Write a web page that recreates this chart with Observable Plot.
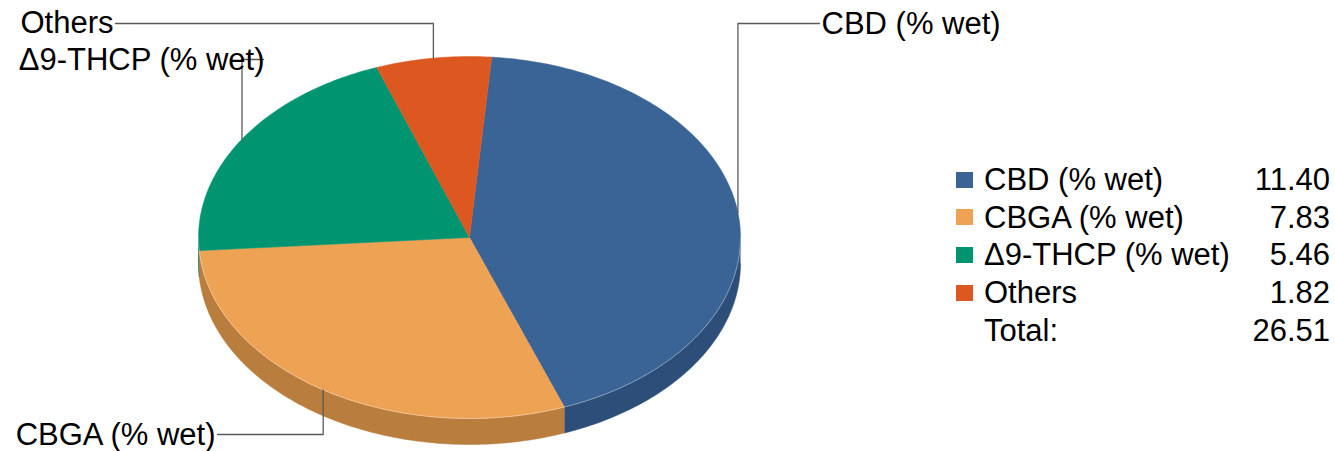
<!DOCTYPE html>
<html><head><meta charset="utf-8">
<script src="https://cdn.jsdelivr.net/npm/d3@7"></script>
<script src="https://cdn.jsdelivr.net/npm/@observablehq/plot@0.6"></script>
<style>
body{margin:0;background:#fff;font-family:"Liberation Sans",Arial,sans-serif;}
#wrap{position:relative;width:1335px;height:451px;overflow:hidden;}
#wrap svg{display:block;}
#legend{position:absolute;left:956px;top:161px;width:374px;font-size:31px;color:#000;line-height:1;}
.row{display:flex;align-items:center;height:37.6px;}
.sw{width:17px;height:16px;margin-right:11px;flex:none;}
.lab{flex:1;white-space:nowrap;}
.val{text-align:right;white-space:nowrap;}
</style></head><body><div id="wrap"><div id="legend"></div></div>
<script>
// ---- data ----
const categories = ["CBD (% wet)", "CBGA (% wet)", "Δ9-THCP (% wet)", "Others"];
const values = [11.40, 7.83, 5.46, 1.82];
const valueLabels = ["11.40", "7.83", "5.46", "1.82"];
const totalText = "Total:";
const totalLabel = "26.51";
const topColors = ["#3a6496", "#eea254", "#009470", "#dd5820"];
const sideColors = ["#2d4e78", "#b97e3e", "#006b51", "#a8421a"];

// ---- layout ----
const W = 1335, H = 451;
const cx = 469, cy = 237, rx = 271, ry = 181, depthPx = 26;
const startDeg = 4.7;
const depth = depthPx / ry;
const px2x = p => (p - cx) / rx;
const px2y = p => (cy - p) / ry;
// callout layout per slice (pixels): lineY = elbow height, lineX = end of horizontal, text pos
const callouts = [
  {lineY: 23, lineX: 819, textX: 821, textY: 23.5, anchor: "start"},
  {lineY: 434, lineX: 217, textX: 215, textY: 434.5, anchor: "end"},
  {lineY: 59, lineX: 263, textX: 264, textY: 60, anchor: "end"},
  {lineY: 23, lineX: 115, textX: 113, textY: 23, anchor: "end"}
];

const arcs = d3.pie().sort(null).startAngle(startDeg * Math.PI / 180)
  .endAngle(startDeg * Math.PI / 180 + 2 * Math.PI)(values);

function arcPts(a0, a1, off = 0) {
  const n = Math.max(2, Math.ceil((a1 - a0) / (Math.PI / 180)));
  const pts = [];
  for (let i = 0; i <= n; i++) {
    const t = a0 + (a1 - a0) * i / n;
    pts.push({x: Math.sin(t), y: Math.cos(t) - off});
  }
  return pts;
}

const marks = [];
// side faces (front half only)
arcs.forEach((a, i) => {
  const lo = Math.max(a.startAngle, Math.PI / 2);
  const hi = Math.min(a.endAngle, 3 * Math.PI / 2);
  if (hi > lo) {
    const pts = [...arcPts(lo, hi), ...arcPts(lo, hi, depth).reverse()];
    marks.push(Plot.line(pts, {x: "x", y: "y", fill: sideColors[i], stroke: sideColors[i], strokeWidth: 0.5}));
  }
});
// top faces
arcs.forEach((a, i) => {
  const pts = [{x: 0, y: 0}, ...arcPts(a.startAngle, a.endAngle), {x: 0, y: 0}];
  marks.push(Plot.line(pts, {x: "x", y: "y", fill: topColors[i], stroke: topColors[i], strokeWidth: 0.5}));
});
// rim highlight on the front edge
marks.push(Plot.line(arcPts(Math.PI / 2, 3 * Math.PI / 2), {x: "x", y: "y", stroke: "#ffffff", strokeOpacity: 0.35, strokeWidth: 1}));
// leader lines + labels
arcs.forEach((a, i) => {
  const m = (a.startAngle + a.endAngle) / 2;
  const c = callouts[i];
  const pts = [
    {x: Math.sin(m), y: Math.cos(m)},
    {x: Math.sin(m), y: px2y(c.lineY)},
    {x: px2x(c.lineX), y: px2y(c.lineY)}
  ];
  marks.push(Plot.line(pts, {x: "x", y: "y", stroke: "#5a5a5a", strokeWidth: 1.3}));
  marks.push(Plot.text([categories[i]], {
    x: () => px2x(c.textX), y: () => px2y(c.textY), text: d => d,
    textAnchor: c.anchor, fontSize: 31, fill: "#000"
  }));
});

const chart = Plot.plot({
  width: W, height: H,
  style: {fontFamily: "'Liberation Sans', Arial, sans-serif", background: "#fff"},
  x: {domain: [-1, 1], range: [cx - rx, cx + rx], axis: null},
  y: {domain: [-1, 1], range: [cy + ry, cy - ry], axis: null},
  marks
});
const wrap = document.getElementById("wrap");
wrap.insertBefore(chart, wrap.firstChild);

// legend
const legend = document.getElementById("legend");
categories.forEach((c, i) => {
  const r = document.createElement("div");
  r.className = "row";
  r.innerHTML = `<span class="sw" style="background:${topColors[i]}"></span><span class="lab">${c}</span><span class="val">${valueLabels[i]}</span>`;
  legend.appendChild(r);
});
const tr = document.createElement("div");
tr.className = "row";
tr.innerHTML = `<span class="sw"></span><span class="lab">${totalText}</span><span class="val">${totalLabel}</span>`;
legend.appendChild(tr);
</script></body></html>
